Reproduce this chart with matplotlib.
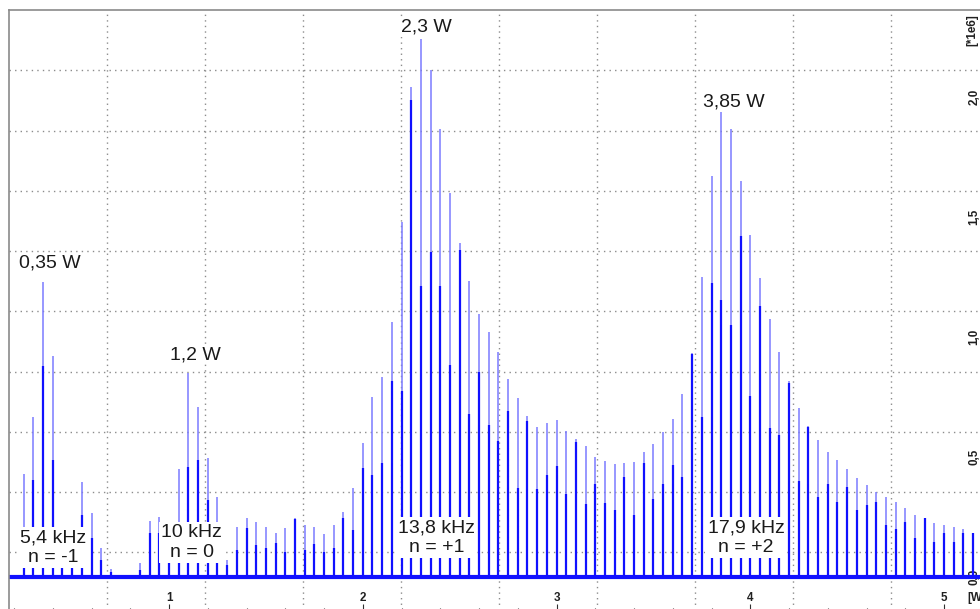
import matplotlib
matplotlib.use("Agg")
import matplotlib.pyplot as plt
from matplotlib.ticker import FixedLocator, MultipleLocator

plt.rcParams["font.family"] = ["Liberation Sans", "DejaVu Sans"]

# comb lines of the spectrum, x in W
freq_w = [0.25, 0.30, 0.35, 0.40, 0.45, 0.50, 0.55, 0.60, 0.65, 0.70,
          0.75, 0.80, 0.85, 0.90, 0.95, 1.00, 1.05, 1.10, 1.15, 1.20,
          1.25, 1.30, 1.35, 1.40, 1.45, 1.50, 1.55, 1.60, 1.65, 1.70,
          1.75, 1.80, 1.85, 1.90, 1.95, 2.00, 2.05, 2.10, 2.15, 2.20,
          2.25, 2.30, 2.35, 2.40, 2.45, 2.50, 2.55, 2.60, 2.65, 2.70,
          2.75, 2.80, 2.85, 2.90, 2.95, 3.00, 3.05, 3.10, 3.15, 3.20,
          3.25, 3.30, 3.35, 3.40, 3.45, 3.50, 3.55, 3.60, 3.65, 3.70,
          3.75, 3.80, 3.85, 3.90, 3.95, 4.00, 4.05, 4.10, 4.15, 4.20,
          4.25, 4.30, 4.35, 4.40, 4.45, 4.50, 4.55, 4.60, 4.65, 4.70,
          4.75, 4.80, 4.85, 4.90, 4.95, 5.00, 5.05, 5.10, 5.15]

# peak height of each line (light tip), units of 1e6
peak = [0.430, 0.668, 1.230, 0.921, 0.140, 0.120, 0.397, 0.267, 0.121, 0.033,
        0.000, 0.000, 0.058, 0.233, 0.251, 0.180, 0.449, 0.849, 0.710, 0.494,
        0.332, 0.070, 0.210, 0.245, 0.230, 0.208, 0.185, 0.204, 0.245, 0.217,
        0.210, 0.179, 0.216, 0.271, 0.372, 0.558, 0.751, 0.833, 1.064, 1.480,
        2.040, 2.243, 2.110, 1.867, 1.599, 1.391, 1.235, 1.094, 1.020, 0.937,
        0.826, 0.744, 0.670, 0.626, 0.640, 0.654, 0.608, 0.575, 0.546, 0.499,
        0.483, 0.470, 0.474, 0.480, 0.520, 0.554, 0.605, 0.657, 0.762, 0.935,
        1.251, 1.672, 1.937, 1.867, 1.650, 1.425, 1.247, 1.075, 0.936, 0.817,
        0.706, 0.629, 0.571, 0.520, 0.487, 0.450, 0.414, 0.383, 0.352, 0.334,
        0.312, 0.286, 0.260, 0.245, 0.224, 0.217, 0.207, 0.199, 0.182]

# height of the solid part of each line, units of 1e6
core = [0.150, 0.404, 0.879, 0.487, 0.090, 0.080, 0.258, 0.163, 0.070, 0.020,
        0.000, 0.000, 0.030, 0.182, 0.182, 0.120, 0.200, 0.460, 0.487, 0.320,
        0.200, 0.050, 0.112, 0.204, 0.133, 0.120, 0.140, 0.105, 0.240, 0.112,
        0.137, 0.105, 0.122, 0.246, 0.194, 0.454, 0.425, 0.476, 0.818, 0.774,
        1.986, 1.212, 1.354, 1.212, 0.885, 1.361, 0.677, 0.855, 0.633, 0.565,
        0.692, 0.372, 0.650, 0.365, 0.425, 0.462, 0.346, 0.564, 0.304, 0.387,
        0.307, 0.279, 0.415, 0.258, 0.476, 0.324, 0.387, 0.467, 0.415, 0.930,
        0.668, 1.226, 1.154, 1.050, 1.422, 0.754, 1.130, 0.620, 0.592, 0.810,
        0.400, 0.625, 0.335, 0.387, 0.314, 0.374, 0.279, 0.300, 0.314, 0.217,
        0.200, 0.230, 0.161, 0.245, 0.147, 0.182, 0.147, 0.182, 0.182]

noise_floor = 0.0

x_ticks = [1, 2, 3, 4, 5]
y_ticks = [0.0, 0.5, 1.0, 1.5, 2.0]
y_tick_labels = ["0,0", "0,5", "1,0", "1,5", "2,0"]

peak_notes = ["0,35 W", "1,2 W", "2,3 W", "3,85 W"]
peak_note_xy = [(0.386, 1.288), (1.134, 0.908), (2.326, 2.271), (3.916, 1.960)]
band_notes = ["5,4 kHz\nn = -1", "10 kHz\nn = 0", "13,8 kHz\nn = +1", "17,9 kHz\nn = +2"]
# anchored at the baseline of the lower line
band_note_xy = [(0.403, 0.0625), (1.118, 0.0833), (2.380, 0.104), (3.978, 0.104)]

XLIM = (0.174, 5.232)
YLIM = (-0.148, 2.362)

fig = plt.figure(figsize=(9.8, 6.09), dpi=100)
ax = fig.add_axes([9 / 980, -3.5 / 609, 980 / 980, 602.5 / 609])
ax.set_xlim(*XLIM)
ax.set_ylim(*YLIM)

# dotted 10x10 division grid, independent of the tick values
grid_kw = dict(color="#8c8c8c", lw=1.0, ls=(0, (1, 3)), zorder=0)
for k in range(1, 10):
    ax.axvline(XLIM[0] + (XLIM[1] - XLIM[0]) * k / 10, **grid_kw)
    ax.axhline(YLIM[0] + (YLIM[1] - YLIM[0]) * k / 10, **grid_kw)

ax.axhline(noise_floor, color="#1010ff", lw=3.0, zorder=2)
ax.vlines(freq_w, noise_floor, peak, colors="#7a7aff", lw=1.1, zorder=3)
ax.vlines(freq_w, noise_floor, core, colors="#1010ff", lw=1.6, zorder=4)

for txt, (x, y) in zip(peak_notes, peak_note_xy):
    ax.text(x, y, txt, ha="center", va="baseline", fontsize=14, color="#1a1a1a",
            bbox=dict(facecolor="white", edgecolor="none", pad=1.0), zorder=6)
for txt, (x, y) in zip(band_notes, band_note_xy):
    ax.text(x, y, txt, ha="center", va="baseline", fontsize=14, color="#1a1a1a",
            multialignment="center",
            bbox=dict(facecolor="white", edgecolor="none", pad=1.5), zorder=6)

# axes frame
for side in ("right", "bottom"):
    ax.spines[side].set_visible(False)
for side in ("left", "top"):
    ax.spines[side].set_color("#8a8a8a")
    ax.spines[side].set_linewidth(1.2)

ax.xaxis.set_major_locator(FixedLocator(x_ticks))
ax.xaxis.set_minor_locator(MultipleLocator(0.2))
ax.set_xticklabels([str(t) for t in x_ticks])
ax.tick_params(axis="x", which="major", direction="in", length=6.5, width=0.8,
               color="#303030", pad=-15, labelsize=8.4, labelcolor="#202020")
ax.tick_params(axis="x", which="minor", direction="in", length=3.5, width=0.8,
               color="#303030")
for lab in ax.get_xticklabels():
    lab.set_fontweight("bold")

ax.yaxis.tick_right()
ax.set_yticks(y_ticks)
ax.set_yticklabels(y_tick_labels, rotation=90, va="center", fontweight="bold")
ax.tick_params(axis="y", which="both", length=0, pad=-15, labelsize=8.4,
               labelcolor="#202020")

# unit labels at the right edge (the x unit is cut by the frame edge)
fig.text(967 / 980, 1 - 591.5 / 609, "[W", ha="left", va="top", fontsize=8.4,
         fontweight="bold", color="#202020")
fig.text(972 / 980, 1 - 30 / 609, "[*1e6]", ha="center", va="center", rotation=90,
         fontsize=8.4, fontweight="bold", color="#202020")

fig.savefig("out.png", dpi=100)
